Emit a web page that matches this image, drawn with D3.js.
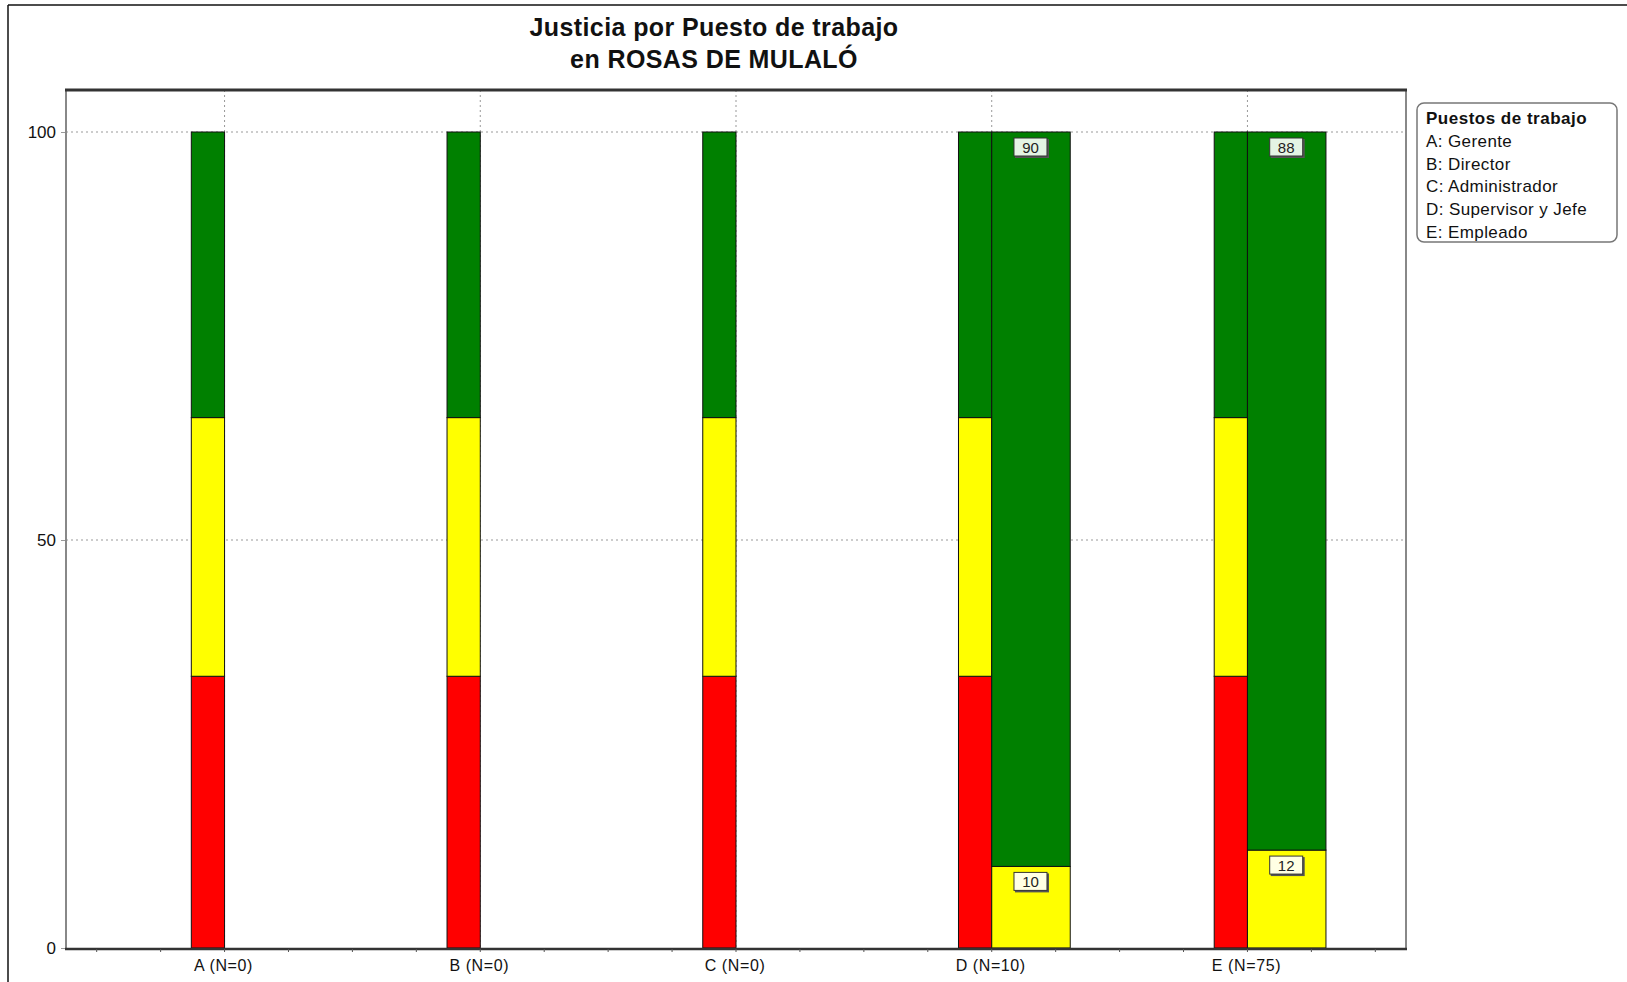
<!DOCTYPE html>
<html>
<head>
<meta charset="utf-8">
<script src="https://cdn.jsdelivr.net/npm/d3@7"></script>
<style>
  body { margin: 0; background: #fff; }
  text { font-family: "Liberation Sans", Arial, sans-serif; }
</style>
</head>
<body>
<div id="chart"></div>
<script>
// chart data //
var categories = ["A (N=0)", "B (N=0)", "C (N=0)", "D (N=10)", "E (N=75)"];

// reference bar (left, narrow) - same for every category
var refRed    = [33.3, 33.3, 33.3, 33.3, 33.3];
var refYellow = [31.7, 31.7, 31.7, 31.7, 31.7];
var refGreen  = [35, 35, 35, 35, 35];

// observed bar (right, wide) - only where N > 0
var obsYellow = [0, 0, 0, 10, 12];
var obsGreen  = [0, 0, 0, 90, 88];

var yTicks = [0, 50, 100];

var legendTitle = "Puestos de trabajo";
var legendItems = ["A: Gerente", "B: Director", "C: Administrador", "D: Supervisor y Jefe", "E: Empleado"];

var titleLines = ["Justicia por Puesto de trabajo", "en ROSAS DE MULALÓ"];

var colors = {red: "#ff0000", yellow: "#ffff00", green: "#008000"};

// layout //
var w = 1627, h = 982;
var plot = {left: 66, right: 1406, top: 90, bottom: 948};

var svg = d3.select("#chart")
            .append("svg")
            .attr("width", w)
            .attr("height", h);

var x = d3.scalePoint()
          .domain(categories)
          .range([plot.left, plot.right])
          .padding(0.62);

var y = d3.scaleLinear()
          .domain([0, 100])
          .range([plot.bottom, 132]);

var step = x.step();
var leftW = step * 0.13;
var rightW = step * 0.307;

// outer frame of the picture (only left and top are visible)
svg.append("line").attr("x1", 8).attr("y1", 5).attr("x2", w).attr("y2", 5)
   .attr("stroke", "#111").attr("stroke-width", 1.5);
svg.append("line").attr("x1", 8).attr("y1", 5).attr("x2", 8).attr("y2", h)
   .attr("stroke", "#111").attr("stroke-width", 1.5);

// title
svg.selectAll(".title")
   .data(titleLines)
   .enter()
   .append("text")
   .attr("class", "title")
   .attr("x", 714)
   .attr("y", function(d, i){ return 36 + i * 32; })
   .attr("text-anchor", "middle")
   .style("font-size", "25px")
   .style("font-weight", "bold")
   .style("letter-spacing", "0.4px")
   .attr("fill", "#111")
   .text(function(d){ return d; });

// gridlines
var grid = svg.append("g");
grid.selectAll(".hgrid")
    .data(yTicks.filter(function(d){ return d > 0; }))
    .enter()
    .append("line")
    .attr("x1", plot.left).attr("x2", plot.right)
    .attr("y1", function(d){ return y(d); })
    .attr("y2", function(d){ return y(d); })
    .attr("stroke", "#999")
    .attr("stroke-dasharray", "2,3");

grid.selectAll(".vgrid")
    .data(categories)
    .enter()
    .append("line")
    .attr("x1", function(d){ return x(d); })
    .attr("x2", function(d){ return x(d); })
    .attr("y1", plot.top).attr("y2", plot.bottom)
    .attr("stroke", "#999")
    .attr("stroke-dasharray", "2,3");

// stacked bars
var bars = svg.append("g");

function stackRows(lists){
  // lists: [[values, color], ...] -> segments with y0/y1
  var out = [];
  categories.forEach(function(c, i){
    var acc = 0;
    lists.forEach(function(l){
      var v = l[0][i];
      if(v > 0){
        out.push({cat: c, y0: acc, y1: acc + v, v: v, color: l[1]});
      }
      acc += v;
    });
  });
  return out;
}

var refSegs = stackRows([[refRed, colors.red], [refYellow, colors.yellow], [refGreen, colors.green]]);
var obsSegs = stackRows([[obsYellow, colors.yellow], [obsGreen, colors.green]]);

bars.selectAll(".ref")
    .data(refSegs)
    .enter()
    .append("rect")
    .attr("x", function(d){ return x(d.cat) - leftW; })
    .attr("width", leftW)
    .attr("y", function(d){ return y(d.y1); })
    .attr("height", function(d){ return y(d.y0) - y(d.y1); })
    .attr("fill", function(d){ return d.color; })
    .attr("stroke", "#111")
    .attr("stroke-width", 1);

bars.selectAll(".obs")
    .data(obsSegs)
    .enter()
    .append("rect")
    .attr("x", function(d){ return x(d.cat); })
    .attr("width", rightW)
    .attr("y", function(d){ return y(d.y1); })
    .attr("height", function(d){ return y(d.y0) - y(d.y1); })
    .attr("fill", function(d){ return d.color; })
    .attr("stroke", "#111")
    .attr("stroke-width", 1);

// value labels on observed bars
var labels = bars.selectAll(".lab")
    .data(obsSegs)
    .enter()
    .append("g")
    .attr("transform", function(d){
      return "translate(" + (x(d.cat) + rightW / 2) + "," + (y(d.y1) + 5) + ")";
    });

labels.append("rect")
      .attr("x", -16).attr("y", 2)
      .attr("width", 34).attr("height", 19)
      .attr("fill", "#555");
labels.append("rect")
      .attr("x", -17).attr("y", 1)
      .attr("width", 33).attr("height", 18)
      .attr("fill", function(d){ return d.color === colors.green ? "#e4f4e4" : "#ffffe4"; })
      .attr("stroke", "#333")
      .attr("stroke-width", 1);
labels.append("text")
      .attr("x", -0.5).attr("y", 15.5)
      .attr("text-anchor", "middle")
      .style("font-size", "15px")
      .attr("fill", "#222")
      .text(function(d){ return Math.round(d.v); });

// plot frame
svg.append("line").attr("x1", plot.left).attr("x2", plot.left)
   .attr("y1", plot.top).attr("y2", plot.bottom)
   .attr("stroke", "#888").attr("stroke-width", 2);
svg.append("line").attr("x1", plot.right).attr("x2", plot.right)
   .attr("y1", plot.top).attr("y2", plot.bottom)
   .attr("stroke", "#888").attr("stroke-width", 2);
svg.append("line").attr("x1", plot.left - 1).attr("x2", plot.right + 1)
   .attr("y1", plot.top).attr("y2", plot.top)
   .attr("stroke", "#333").attr("stroke-width", 3);
svg.append("line").attr("x1", plot.left - 1).attr("x2", plot.right + 1)
   .attr("y1", plot.bottom + 1).attr("y2", plot.bottom + 1)
   .attr("stroke", "#333").attr("stroke-width", 2.5);

// y axis
var yAxis = svg.append("g")
   .attr("transform", "translate(" + (plot.left - 1) + ",0)")
   .call(d3.axisLeft(y).tickValues(yTicks).tickSize(4).tickPadding(5).tickFormat(d3.format("d")));
yAxis.select(".domain").remove();
yAxis.selectAll(".tick line").attr("stroke", "#999");
yAxis.selectAll("text")
     .style("font-size", "17px")
     .style("font-family", "'Liberation Sans', Arial, sans-serif")
     .attr("fill", "#111");

// x axis minor ticks every quarter step
var minor = [];
for(var k = -8; k <= 24; k++){
  var px = x(categories[0]) + k * step / 4;
  if(px > plot.left + 2 && px < plot.right - 2) minor.push(px);
}
svg.append("g").selectAll("line")
   .data(minor)
   .enter()
   .append("line")
   .attr("x1", function(d){ return d; })
   .attr("x2", function(d){ return d; })
   .attr("y1", plot.bottom + 1).attr("y2", plot.bottom + 4)
   .attr("stroke", "#555");

svg.append("g").selectAll("text")
   .data(categories)
   .enter()
   .append("text")
   .attr("x", function(d){ return x(d) - 1; })
   .attr("y", 971)
   .attr("text-anchor", "middle")
   .style("font-size", "16px")
   .style("letter-spacing", "0.6px")
   .attr("fill", "#111")
   .text(function(d){ return d; });

// legend
var legend = svg.append("g");
legend.append("rect")
      .attr("x", 1417).attr("y", 103)
      .attr("width", 200).attr("height", 139)
      .attr("rx", 7)
      .attr("fill", "#fff")
      .attr("stroke", "#777")
      .attr("stroke-width", 1.5);
legend.append("text")
      .attr("x", 1426).attr("y", 124)
      .style("font-size", "17px")
      .style("font-weight", "bold")
      .style("letter-spacing", "0.5px")
      .attr("fill", "#111")
      .text(legendTitle);
legend.selectAll(".item")
      .data(legendItems)
      .enter()
      .append("text")
      .attr("x", 1426)
      .attr("y", function(d, i){ return 147 + i * 22.7; })
      .style("font-size", "17px")
      .style("letter-spacing", "0.4px")
      .attr("fill", "#111")
      .text(function(d){ return d; });
</script>
</body>
</html>
